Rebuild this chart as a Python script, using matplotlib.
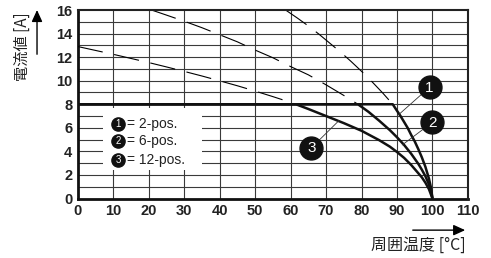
import matplotlib
matplotlib.use("Agg")
import matplotlib.pyplot as plt
from matplotlib.patches import Rectangle, FancyArrowPatch

# ---- data ----
x_ticks = [0, 10, 20, 30, 40, 50, 60, 70, 80, 90, 100, 110]
y_ticks = [0, 2, 4, 6, 8, 10, 12, 14, 16]

# dashed (theoretical) continuation above 8 A
t1_dash = [58.6, 62, 65, 68, 71, 74, 77, 80, 83, 86, 88.8]
i1_dash = [16.0, 15.3, 14.65, 13.95, 13.2, 12.45, 11.65, 10.8, 9.9, 8.95, 8.0]
t2_dash = [20.8, 25, 30, 35, 40, 45, 50, 55, 60, 65, 70, 75, 79]
i2_dash = [16.0, 15.57, 15.05, 14.5, 13.9, 13.3, 12.6, 11.95, 11.2, 10.5, 9.65, 8.75, 8.0]
t3_dash = [0, 5, 10, 15, 20, 25, 30, 35, 40, 45, 50, 55, 60, 61.5]
i3_dash = [12.9, 12.57, 12.24, 11.89, 11.54, 11.17, 10.79, 10.4, 9.99, 9.57, 9.12, 8.65, 8.16, 8.0]

# solid derating curves
t1 = [0, 88.8, 90, 91, 92, 93, 94, 95, 96, 97, 98, 99, 99.6, 100]
i1 = [8, 8, 7.45, 7.0, 6.5, 6.0, 5.4, 4.85, 4.2, 3.5, 2.7, 1.7, 0.9, 0]
t2 = [0, 79, 82, 85, 88, 90, 92, 94, 96, 97, 98, 99, 99.6, 100]
i2 = [8, 8, 7.35, 6.6, 5.8, 5.2, 4.55, 3.8, 2.95, 2.45, 1.9, 1.2, 0.65, 0]
t3 = [0, 61.5, 65, 70, 75, 80, 85, 88, 90, 92, 94, 96, 97, 98, 99, 100]
i3 = [8, 8, 7.6, 7.0, 6.4, 5.75, 4.95, 4.4, 3.95, 3.45, 2.85, 2.15, 1.8, 1.35, 0.8, 0]

callout_nums = ["1", "2", "3"]
legend_labels = ["2-pos.", "6-pos.", "12-pos."]

ylabel = "電流値 [A]"
xlabel = "周囲温度 [°C]"

# ---- figure ----
cjk = ["Noto Sans CJK JP", "DejaVu Sans"]
num_font = "Liberation Sans"

fig = plt.figure(figsize=(4.91, 2.58), dpi=100)
ax = fig.add_axes([0.1583, 0.2306, 0.953 - 0.1583, 0.9612 - 0.2306])
ax.set_xlim(0, 110)
ax.set_ylim(0, 16)

gridc = "#3a3a3a"
for x in range(10, 110, 10):
    ax.axvline(x, color=gridc, lw=0.8, zorder=1)
for y in range(1, 16):
    ax.axhline(y, color=gridc, lw=0.8, zorder=1)

# legend box (white) covering grid
ax.add_patch(Rectangle((7.1, 2.4), 27.9, 5.25, facecolor="white",
                       edgecolor="none", zorder=2))

dash = (0, (23, 10.5))
for t, i in [(t1_dash, i1_dash), (t2_dash, i2_dash), (t3_dash, i3_dash)]:
    ax.plot(t, i, color="black", lw=0.8, linestyle=dash, zorder=3)
for t, i in [(t1, i1), (t2, i2), (t3, i3)]:
    ax.plot(t, i, color="#111111", lw=1.8, zorder=4, solid_capstyle="butt")

# callouts: (circle center, pointer end)
callouts = [((99.2, 9.45), (90.6, 7.15)),
            ((100.0, 6.47), (91.5, 4.55)),
            ((65.9, 4.31), (73.6, 6.6))]
for num, (c, p) in zip(callout_nums, callouts):
    ax.plot([c[0], p[0]], [c[1], p[1]], color="#333333", lw=0.6, zorder=5)
    ax.plot(c[0], c[1], marker="o", ms=16.5, color="#111111", zorder=6,
            clip_on=False)
    ax.text(c[0], c[1] - 0.05, num, color="white", fontsize=11,
            family=num_font, ha="center", va="center", zorder=7)

# legend
leg_y = [6.36, 4.88, 3.29]
for num, lab, y in zip(callout_nums, legend_labels, leg_y):
    ax.plot(11.47, y, marker="o", ms=9.5, color="#111111", zorder=6)
    ax.text(11.47, y - 0.03, num, color="white", fontsize=7,
            family=num_font, ha="center", va="center", zorder=7)
    ax.text(14.0, y, "= " + lab, color="#222222", fontsize=10,
            family=num_font, ha="left", va="center", zorder=7)

ax.set_xticks(x_ticks)
ax.set_yticks(y_ticks)
ax.set_xticklabels([str(v) for v in x_ticks], fontsize=10.5,
                   fontweight="bold", family=num_font, color="#222222")
ax.set_yticklabels([str(v) for v in y_ticks], fontsize=10.5,
                   fontweight="bold", family=num_font, color="#222222")
ax.tick_params(length=0, pad=4)

for side in ["left", "bottom"]:
    ax.spines[side].set_linewidth(2.0)
    ax.spines[side].set_color("#111111")
for side in ["top", "right"]:
    ax.spines[side].set_linewidth(1.5)
    ax.spines[side].set_color("#222222")
    ax.spines[side].set_zorder(8)

# axis titles with arrows
fig.text(0.0448, 0.820, ylabel, rotation=90, fontsize=11, family=cjk,
         ha="center", va="center", color="#222222")
fig.add_artist(FancyArrowPatch(
    (0.0754, 0.779), (0.0754, 0.972), transform=fig.transFigure,
    arrowstyle="-|>,head_length=7,head_width=3.2", color="black", lw=1.0,
    mutation_scale=1))
fig.text(0.948, 0.050, xlabel, fontsize=11.5, family=cjk,
         ha="right", va="center", color="#222222")
fig.add_artist(FancyArrowPatch(
    (0.835, 0.108), (0.953, 0.108), transform=fig.transFigure,
    arrowstyle="-|>,head_length=7,head_width=3.2", color="black", lw=1.0,
    mutation_scale=1))

fig.savefig("out.png", dpi=100)
